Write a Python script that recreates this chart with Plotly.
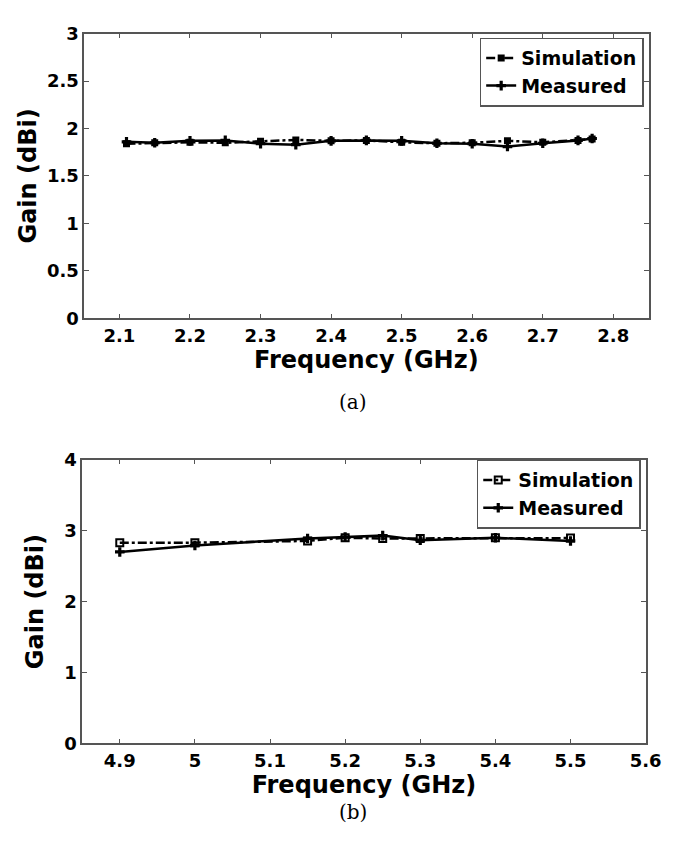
import plotly.graph_objects as go

# ---- data (a) ----
freq_a = [2.11, 2.15, 2.2, 2.25, 2.3, 2.35, 2.4, 2.45, 2.5, 2.55, 2.6, 2.65, 2.7, 2.75, 2.77]
sim_a = [1.84, 1.85, 1.855, 1.85, 1.865, 1.88, 1.87, 1.875, 1.855, 1.845, 1.85, 1.87, 1.855, 1.875, 1.89]
meas_a = [1.86, 1.85, 1.87, 1.875, 1.84, 1.83, 1.87, 1.875, 1.87, 1.845, 1.84, 1.81, 1.845, 1.875, 1.895]
xticks_a = [2.1, 2.2, 2.3, 2.4, 2.5, 2.6, 2.7, 2.8]
yticks_a = [0, 0.5, 1, 1.5, 2, 2.5, 3]

# ---- data (b) ----
freq_b = [4.9, 5.0, 5.15, 5.2, 5.25, 5.3, 5.4, 5.5]
sim_b = [2.83, 2.83, 2.855, 2.90, 2.89, 2.89, 2.90, 2.895]
meas_b = [2.70, 2.79, 2.89, 2.91, 2.93, 2.865, 2.90, 2.855]
xticks_b = [4.9, 5.0, 5.1, 5.2, 5.3, 5.4, 5.5, 5.6]
xticklabels_b = ["4.9", "5", "5.1", "5.2", "5.3", "5.4", "5.5", "5.6"]
yticks_b = [0, 1, 2, 3, 4]

W, H = 680, 842
FONT = "DejaVu Sans, Liberation Sans, Arial, sans-serif"

fig = go.Figure()

# (a)
fig.add_trace(go.Scatter(x=freq_a, y=sim_a, name="<b>Simulation</b>", mode="lines+markers",
                         line=dict(color="black", width=2.5, dash="dashdot"),
                         marker=dict(symbol="square", size=7, color="black"),
                         xaxis="x", yaxis="y", legend="legend"))
fig.add_trace(go.Scatter(x=freq_a, y=meas_a, name="<b>Measured</b>", mode="lines+markers",
                         line=dict(color="black", width=2.5),
                         marker=dict(symbol="cross", size=8, color="black"),
                         xaxis="x", yaxis="y", legend="legend"))
# (b)
fig.add_trace(go.Scatter(x=freq_b, y=sim_b, name="<b>Simulation</b>", mode="lines+markers",
                         line=dict(color="black", width=2.5, dash="dashdot"),
                         marker=dict(symbol="square-open", size=7, color="black", line=dict(width=2)),
                         xaxis="x2", yaxis="y2", legend="legend2"))
fig.add_trace(go.Scatter(x=freq_b, y=meas_b, name="<b>Measured</b>", mode="lines+markers",
                         line=dict(color="black", width=2.5),
                         marker=dict(symbol="cross", size=8, color="black"),
                         xaxis="x2", yaxis="y2", legend="legend2"))

axcommon = dict(showline=True, mirror="ticks", linecolor="#555", linewidth=1.5,
                ticks="inside", ticklen=5, tickcolor="#555", showgrid=False, zeroline=False,
                tickfont=dict(family=FONT, size=18, color="black"))
titlefont = dict(family=FONT, size=24, color="black")
legfont = dict(family=FONT, size=19, color="black")

fig.update_layout(
    width=W, height=H,
    margin=dict(l=0, r=0, t=0, b=0),
    paper_bgcolor="white", plot_bgcolor="white",
    xaxis=dict(domain=[78 / W, 656 / W], anchor="y", range=[2.05, 2.85],
               tickvals=xticks_a, ticktext=[str(v) for v in xticks_a],
               title=dict(text="<b>Frequency (GHz)</b>", font=titlefont, standoff=0), **axcommon),
    yaxis=dict(domain=[1 - 307 / H, 1 - 15 / H], anchor="x", range=[0, 3],
               tickvals=yticks_a, ticktext=["0", "0.5", "1", "1.5", "2", "2.5", "3"],
               title=dict(text="<b>Gain (dBi)</b>", font=titlefont, standoff=4), **axcommon),
    xaxis2=dict(domain=[76 / W, 653 / W], anchor="y2", range=[4.85, 5.6],
                tickvals=xticks_b, ticktext=xticklabels_b,
                title=dict(text="<b>Frequency (GHz)</b>", font=titlefont, standoff=0), **axcommon),
    yaxis2=dict(domain=[1 - 743 / H, 1 - 452 / H], anchor="x2", range=[0, 4],
                tickvals=yticks_b, ticktext=[str(v) for v in yticks_b],
                title=dict(text="<b>Gain (dBi)</b>", font=titlefont, standoff=14), **axcommon),
    legend=dict(x=651 / W, y=1 - 19 / H, xanchor="right", yanchor="top",
                bgcolor="white", bordercolor="#555", borderwidth=1.5,
                font=legfont, itemwidth=30, tracegroupgap=0),
    legend2=dict(x=648 / W, y=1 - 452 / H, xanchor="right", yanchor="top",
                 bgcolor="white", bordercolor="#555", borderwidth=1.5,
                 font=legfont, itemwidth=30, tracegroupgap=0),
    showlegend=True,
)

# bold tick labels via ticktext
for ax in ["xaxis", "yaxis", "xaxis2", "yaxis2"]:
    a = fig.layout[ax]
    a.ticktext = ["<b>%s</b>" % t for t in a.ticktext]

fig.add_annotation(text="(a)", x=0.52, y=1 - 393 / H, xref="paper", yref="paper",
                   showarrow=False, font=dict(family="DejaVu Serif, Liberation Serif, serif", size=20, color="black"))
fig.add_annotation(text="(b)", x=0.52, y=1 - 828 / H, xref="paper", yref="paper",
                   showarrow=False, font=dict(family="DejaVu Serif, Liberation Serif, serif", size=20, color="black"))

fig.write_html("out.html")
